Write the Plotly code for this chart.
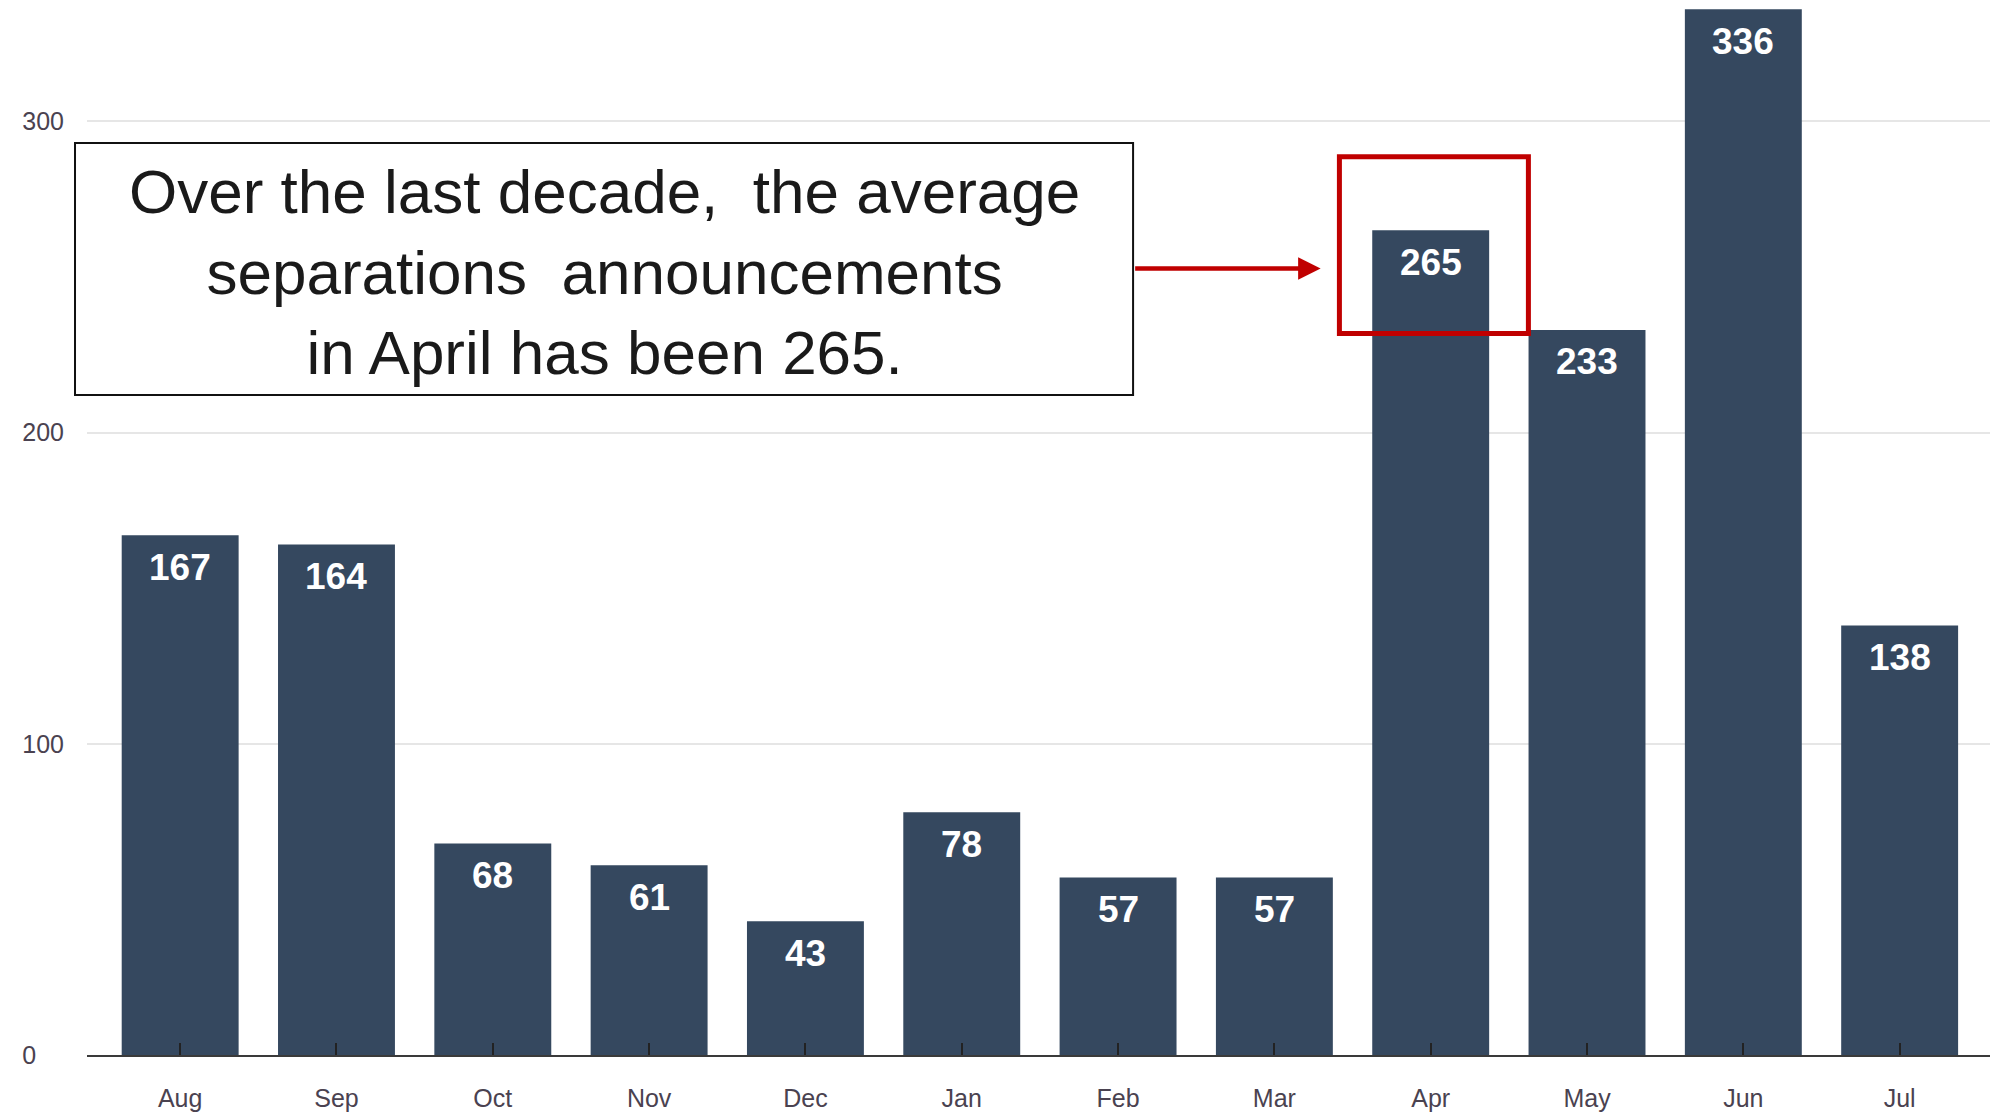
import plotly.graph_objects as go

months = ["Aug", "Sep", "Oct", "Nov", "Dec", "Jan", "Feb", "Mar", "Apr", "May", "Jun", "Jul"]
values = [167, 164, 68, 61, 43, 78, 57, 57, 265, 233, 336, 138]
y_ticks = [0, 100, 200, 300]
note_lines = ["Over the last decade,  the average",
              "separations  announcements",
              "in April has been 265."]
highlight_month = "Apr"

BAR = "#35485f"
FONT = "Liberation Sans, Arial, sans-serif"
LABEL_COLOR = "#4a4250"

fig = go.Figure()
fig.add_trace(go.Bar(x=months, y=values, marker=dict(color=BAR, line=dict(width=0)),
                     hoverinfo="x+y"))

# value labels inside bars, near the top
for m, v in zip(months, values):
    fig.add_annotation(x=m, y=v, text=f"<b>{v}</b>", showarrow=False,
                       yanchor="middle", yshift=-32,
                       font=dict(family=FONT, size=37, color="white"))

hi = months.index(highlight_month)

# note box
fig.add_shape(type="rect", xref="paper", yref="paper",
              x0=-0.0063, x1=0.5497, y0=0.6256, y1=0.8645,
              line=dict(color="#111111", width=2), fillcolor="white", layer="above")
fig.add_annotation(xref="paper", yref="paper", x=0.2717, y=0.742,
                   text="<br>".join(note_lines), showarrow=False,
                   xanchor="center", yanchor="middle", align="center",
                   font=dict(family=FONT, size=62, color="#1a1a1a"))

# red highlight box around April
fig.add_shape(type="rect", xref="x", yref="y",
              x0=hi - 0.584, x1=hi + 0.625, y0=231.8, y1=288.6,
              line=dict(color="#c00000", width=5), fillcolor="rgba(0,0,0,0)", layer="above")

# red arrow
fig.add_annotation(x=hi - 0.704, y=252.7, xref="x", yref="y",
                   ax=-187, ay=0, axref="pixel", ayref="pixel",
                   text="", showarrow=True, arrowhead=2, arrowsize=1.0,
                   arrowwidth=4.5, arrowcolor="#c00000")

fig.update_layout(
    width=1990, height=1114,
    margin=dict(l=87, r=0, t=0, b=59),
    paper_bgcolor="white", plot_bgcolor="white",
    bargap=0.252, showlegend=False,
    font=dict(family=FONT),
    xaxis=dict(type="category", range=[-0.596, 11.578],
               showline=True, linecolor="#3a3a3a", linewidth=2,
               ticks="inside", ticklen=12, tickwidth=2, tickcolor="#222222",
               tickfont=dict(family=FONT, size=25, color=LABEL_COLOR),
               ticklabelstandoff=20, showgrid=False),
    yaxis=dict(range=[0, 339], tickvals=y_ticks,
               ticktext=[str(t).ljust(3).replace(" ", "\u2007") for t in y_ticks],
               showgrid=True, gridcolor="#e6e6e6", gridwidth=2,
               zeroline=False, showline=False, ticks="",
               tickfont=dict(family=FONT, size=25, color=LABEL_COLOR),
               ticklabelstandoff=22),
)

fig.write_html("out.html", config={"displayModeBar": False},
               post_script="document.body.style.margin='0';document.body.style.overflow='hidden';")
